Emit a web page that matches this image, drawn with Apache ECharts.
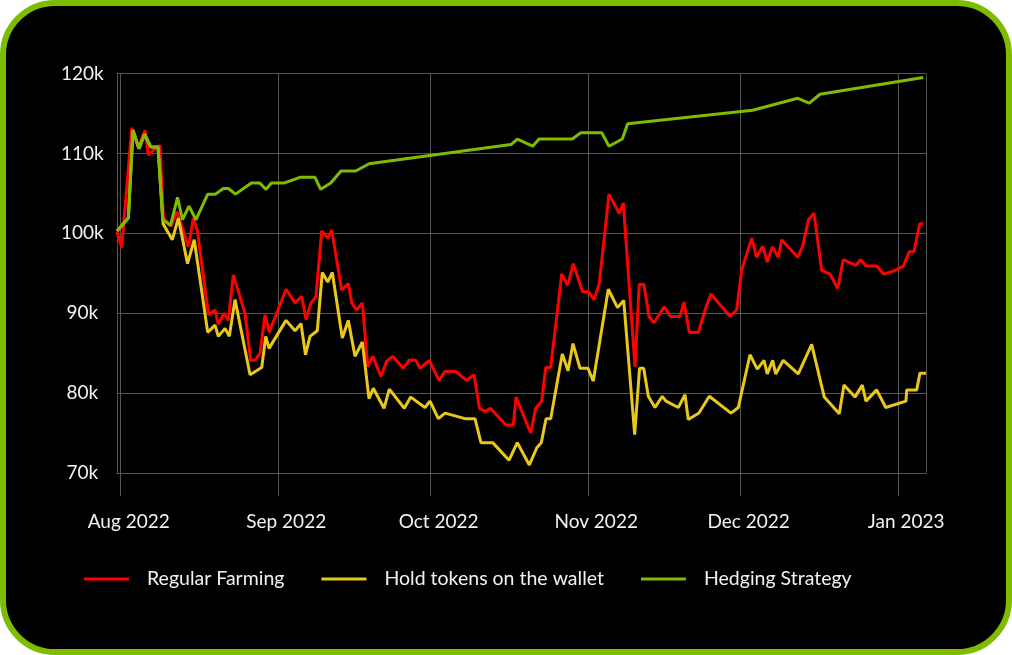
<!DOCTYPE html>
<html>
<head>
<meta charset="utf-8">
<script src="https://cdn.jsdelivr.net/npm/echarts@6/dist/echarts.min.js"></script>
<style>
  html, body { margin: 0; padding: 0; background: #ffffff; }
  #frame { position: absolute; left: 0; top: 0; width: 1012px; height: 655px; box-sizing: border-box;
           border: 6px solid #7fbc00; border-radius: 55px; background: #000000; }
  #chart { position: absolute; left: 0; top: 0; width: 1012px; height: 655px; }
</style>
</head>
<body>
<div id="frame"></div>
<div id="chart"></div>
<script>
// Day offsets are days counted from 1 Aug 2022
const seriesNames = ['Regular Farming', 'Hold tokens on the wallet', 'Hedging Strategy'];

const farmDays = [-0.73,0.20,2.17,3.47,4.78,5.43,6.75,7.74,8.39,9.90,11.08,13.34,14.29,15.08,17.28,18.56,19.21,20.33,21.18,22.16,24.46,25.58,26.43,27.41,28.40,29.24,32.53,34.30,35.62,36.47,37.39,38.43,39.56,40.74,41.52,43.49,44.79,45.46,46.44,47.55,48.61,49.59,51.23,52.35,53.53,55.61,56.74,58.11,58.90,60.73,62.64,63.82,65.93,68.09,69.53,70.61,71.75,72.74,75.82,77.26,77.79,80.69,81.67,82.85,83.64,84.62,86.79,87.97,89.07,90.88,92.06,93.14,94.18,96.09,98.10,98.91,101.21,102.04,102.98,103.96,104.95,106.96,108.16,110.07,110.85,111.90,113.67,115.32,116.17,119.90,121.22,122.21,124.18,125.16,126.34,127.24,128.23,129.41,130.08,133.23,134.21,135.35,136.44,137.95,139.58,141.10,142.20,144.70,145.62,146.67,148.77,150.15,152.18,154.01,155.19,156.11,157.24,157.94];
const farmValues = [100200,98200,113200,110700,112900,109800,110600,111000,101900,100900,102700,98300,101900,100400,89800,90400,88600,90000,89100,94800,90000,84100,84100,85000,89800,87600,93000,91300,92100,89200,91200,92100,100300,99400,100400,92900,93700,91300,90400,91300,83300,84600,82100,84000,84600,83100,84100,84100,83100,84100,81600,82700,82700,81600,82300,78100,77700,78100,76000,76000,79500,75000,78100,79000,83200,83200,94900,93500,96200,92700,92700,91700,93700,104900,102500,103800,83300,93600,93600,89600,88800,90800,89600,89600,91400,87600,87600,91000,92400,89600,90400,95400,99400,97000,98400,96400,98300,97000,99200,97000,98400,101700,102500,95400,94900,93100,96700,96000,96700,95900,95900,94900,95300,95900,97700,97700,101200,101200];

const holdDays = [-0.73,1.50,2.42,3.60,4.69,5.91,7.34,8.33,10.16,11.34,13.15,14.47,17.12,18.56,19.21,20.53,21.37,22.50,25.45,27.75,28.54,29.19,32.53,34.30,35.48,36.37,37.25,38.69,39.67,40.74,41.64,43.61,44.79,46.11,47.55,48.86,49.71,51.82,52.86,55.81,57.07,59.88,60.87,62.50,63.82,67.76,69.72,70.90,73.21,76.42,78.05,80.41,81.92,82.77,83.70,84.62,86.90,88.03,89.01,90.39,91.96,93.00,95.96,97.77,98.99,101.15,102.10,102.92,103.83,105.15,106.58,107.31,109.73,111.05,111.70,113.80,115.83,120.10,121.54,123.84,125.28,126.60,127.24,128.31,128.90,130.39,133.34,135.98,138.46,141.41,142.34,144.50,145.94,146.67,148.77,150.55,154.54,154.68,156.65,157.29,158.47];
const holdValues = [100300,101900,112900,110600,112400,110800,110800,101200,99200,101900,96200,99200,87600,88500,87100,88100,87100,91700,82300,83200,87100,85600,89100,87800,88700,84800,87100,87800,95100,93900,95100,86900,89100,84600,86400,79300,80600,78100,80500,78100,79500,78200,79000,76800,77500,76800,76800,73800,73800,71600,73800,71000,73200,73800,76800,76800,84900,82800,86200,83100,83100,81500,93000,90700,91600,74800,83100,83100,79600,78200,79600,79000,78200,79800,76700,77500,79600,77500,78200,84800,83000,84100,82400,84100,82400,84100,82400,86100,79500,77400,81000,79500,81000,79000,80400,78200,79000,80400,80400,82500,82500];

const hedgeDays = [-0.73,1.50,2.42,3.60,4.69,5.91,7.34,8.27,9.80,11.18,12.16,13.44,14.82,17.12,18.66,20.19,21.18,22.59,25.70,27.36,28.60,29.64,32.24,35.29,38.24,39.36,41.33,43.35,46.25,48.86,76.81,78.05,81.08,82.32,88.87,90.58,94.66,96.09,98.71,99.77,124.37,133.23,135.51,137.62,157.94];
const hedgeValues = [100300,101900,112900,110600,112400,110800,110800,101700,101000,104500,101700,103400,101700,104900,104900,105600,105600,104900,106300,106300,105500,106300,106300,107000,107000,105500,106300,107800,107800,108700,111100,111800,110900,111800,111800,112600,112600,110900,111800,113700,115400,116900,116300,117400,119500];

const lineColors = ['#ff0000', '#e8c81a', '#7fbc00'];
const monthLabelFormat = '{MMM} {yyyy}';
const xMinDay = -0.75, xMaxDay = 158.5;

const BASE = new Date(2022, 7, 1).getTime();
const DAY = 86400000;
function pairs(days, values) { return days.map((d, i) => [BASE + d * DAY, values[i]]); }

const chart = echarts.init(document.getElementById('chart'), null, { renderer: 'canvas' });
const gridColor = '#555555';
const font = 'Lato, "Noto Sans", sans-serif';

chart.setOption({
  animation: false,
  backgroundColor: 'transparent',
  grid: { left: 116.9, right: 85.9, top: 73.5, bottom: 182, containLabel: false },
  legend: {
    left: 84, top: 569, padding: 0, itemWidth: 45, itemHeight: 3, itemGap: 37, icon: 'rect',
    data: seriesNames,
    textStyle: { color: '#f2f2f2', fontSize: 19.5, fontFamily: font, padding: [0, 0, 0, 13] }
  },
  xAxis: {
    type: 'time',
    min: BASE + xMinDay * DAY,
    max: BASE + xMaxDay * DAY,
    minInterval: 28 * DAY,
    axisLine: { show: true, lineStyle: { color: gridColor, width: 1 } },
    axisTick: { show: true, length: 23, lineStyle: { color: gridColor, width: 1 } },
    splitLine: { show: true, lineStyle: { color: gridColor, width: 1 } },
    axisLabel: { color: '#f2f2f2', fontSize: 19, fontFamily: font, margin: 39,
                 formatter: monthLabelFormat, padding: [0, 0, 0, 16], hideOverlap: false }
  },
  yAxis: {
    type: 'value', min: 70000, max: 120000, interval: 10000,
    axisLine: { show: false }, axisTick: { show: false },
    splitLine: { show: true, lineStyle: { color: gridColor, width: 1 } },
    axisLabel: { color: '#f2f2f2', fontSize: 19, fontFamily: font, margin: 34.5, align: 'center',
                 padding: [7, 0, 0, 0], formatter: v => (v / 1000) + 'k' }
  },
  series: [
    { name: seriesNames[0], type: 'line', data: pairs(farmDays, farmValues), symbol: 'none', showSymbol: false,
      lineStyle: { color: lineColors[0], width: 3 }, itemStyle: { color: lineColors[0] } },
    { name: seriesNames[1], type: 'line', data: pairs(holdDays, holdValues), symbol: 'none', showSymbol: false,
      lineStyle: { color: lineColors[1], width: 3 }, itemStyle: { color: lineColors[1] } },
    { name: seriesNames[2], type: 'line', data: pairs(hedgeDays, hedgeValues), symbol: 'none', showSymbol: false,
      lineStyle: { color: lineColors[2], width: 3 }, itemStyle: { color: lineColors[2] } }
  ]
});
</script>
</body>
</html>
